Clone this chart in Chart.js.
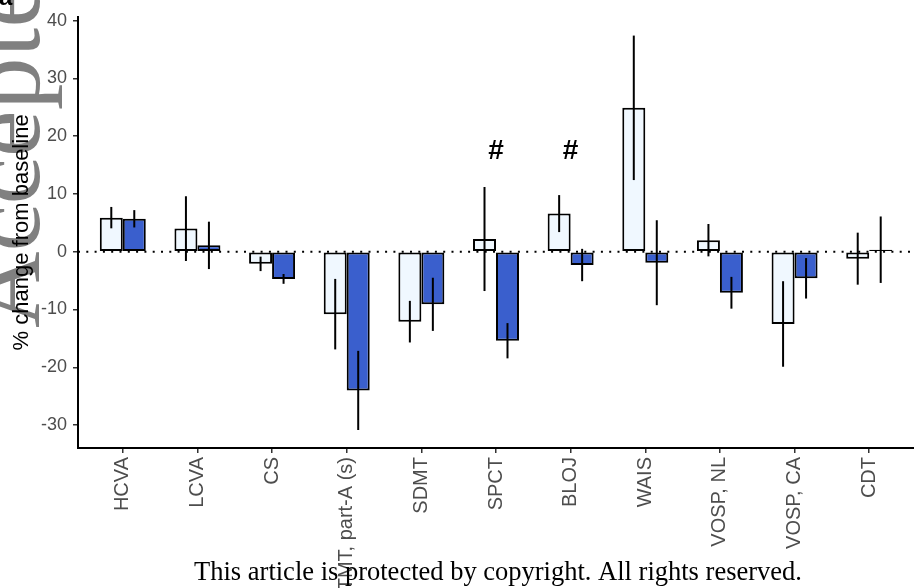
<!DOCTYPE html>
<html>
<head>
<meta charset="utf-8">
<title>% change from baseline</title>
<script src="https://cdn.jsdelivr.net/npm/chart.js@4.4.1/dist/chart.umd.min.js"></script>
<style>
	html, body { margin: 0; padding: 0; background: #ffffff; }
	canvas { display: block; }
</style>
</head>
<body>
<canvas id="chart-change" width="914" height="588"></canvas>
<script>
	var categories = ["HCVA", "LCVA", "CS", "TMT, part-A (s)", "SDMT", "SPCT", "BLOJ", "WAIS", "VOSP, NL", "VOSP, CA", "CDT"];

	// group 1 (light bars), mean and error
	var lightValues = [5.9, 4.0, -2.1, -10.8, -12.1, 2.2, 6.6, 24.9, 2.0, -12.5, -1.2];
	var lightErrors = [1.85, 5.6, 1.25, 6.1, 3.6, 9.0, 3.2, 12.5, 2.8, 7.4, 4.5];

	// group 2 (dark bars), mean and error
	var darkValues = [5.7, 1.1, -4.7, -24.0, -9.1, -15.4, -2.3, -1.9, -7.1, -4.6, 0.35];
	var darkErrors = [1.5, 4.1, 0.85, 6.85, 4.6, 3.05, 2.8, 7.35, 2.75, 3.5, 5.75];

	var markers = ["", "", "", "", "", "#", "#", "", "", "", ""];
	var markerLevel = 16.1;

	var yTicks = [-30, -20, -10, 0, 10, 20, 30, 40];

	var sansFont = "'Liberation Sans', Arial, sans-serif";
	var serifFont = "'Liberation Serif', 'Times New Roman', serif";

	function ToPoints(values)
	{
		return values.map(function(v, i)
		{
			return { x: i, y: v };
		});
	}

	var decorations =
	{
		id: "decorations",
		beforeDraw: function(chart)
		{
			var ctx = chart.ctx;
			ctx.save();
			ctx.fillStyle = "#ffffff";
			ctx.fillRect(0, 0, chart.width, chart.height);

			// watermark
			ctx.translate(39, 328);
			ctx.rotate(-Math.PI / 2);
			ctx.font = "106px " + serifFont;
			ctx.fillStyle = "#808080";
			ctx.textAlign = "left";
			ctx.textBaseline = "alphabetic";
			ctx.fillText("Accepted", 0, 0);
			ctx.restore();
		},
		beforeDatasetsDraw: function(chart)
		{
			var ctx = chart.ctx;
			var area = chart.chartArea;
			var y0 = chart.scales.y.getPixelForValue(0);
			ctx.save();
			ctx.strokeStyle = "#000000";
			ctx.lineWidth = 2;
			ctx.setLineDash([2, 6.3]);
			ctx.beginPath();
			ctx.moveTo(area.left, y0);
			ctx.lineTo(area.right, y0);
			ctx.stroke();
			ctx.restore();
		},
		afterDatasetsDraw: function(chart)
		{
			var ctx = chart.ctx;
			var yScale = chart.scales.y;
			var xScale = chart.scales.x;
			var errors = [lightErrors, darkErrors];
			var values = [lightValues, darkValues];

			ctx.save();
			ctx.strokeStyle = "#000000";
			ctx.lineWidth = 2;
			for (var d = 0; d < 2; d++)
			{
				var meta = chart.getDatasetMeta(d);
				meta.data.forEach(function(bar, i)
				{
					var top = yScale.getPixelForValue(values[d][i] + errors[d][i]);
					var bottom = yScale.getPixelForValue(values[d][i] - errors[d][i]);
					ctx.beginPath();
					ctx.moveTo(bar.x, top);
					ctx.lineTo(bar.x, bottom);
					ctx.stroke();
				});
			}

			ctx.fillStyle = "#000000";
			ctx.font = "bold 28px " + sansFont;
			ctx.textAlign = "center";
			ctx.textBaseline = "alphabetic";
			markers.forEach(function(m, i)
			{
				if (m)
				{
					ctx.fillText(m, xScale.getPixelForValue(i), yScale.getPixelForValue(markerLevel));
				}
			});
			ctx.restore();
		},
		afterDraw: function(chart)
		{
			var ctx = chart.ctx;
			var area = chart.chartArea;

			// y axis title
			ctx.save();
			ctx.translate(28, (area.top + area.bottom) / 2);
			ctx.rotate(-Math.PI / 2);
			ctx.font = "22px " + sansFont;
			ctx.fillStyle = "#000000";
			ctx.textAlign = "center";
			ctx.textBaseline = "alphabetic";
			ctx.fillText("% change from baseline", 0, 0);
			ctx.restore();

			// bit of a panel letter cut off at the top
			ctx.save();
			ctx.font = "bold 24px " + sansFont;
			ctx.fillStyle = "#000000";
			ctx.textAlign = "left";
			ctx.textBaseline = "alphabetic";
			ctx.fillText("a", -1, 5);
			ctx.restore();

			// copyright line
			ctx.save();
			ctx.font = "26.5px " + serifFont;
			ctx.fillStyle = "#000000";
			ctx.textAlign = "center";
			ctx.textBaseline = "alphabetic";
			ctx.fillText("This article is protected by copyright. All rights reserved.", 498, 580);
			ctx.restore();
		}
	};

	new Chart("chart-change", {
		type: "bar",
		data: {
			datasets: [
				{
					label: "group 1",
					data: ToPoints(lightValues),
					backgroundColor: "#F0F8FF",
					borderColor: "#000000",
					borderWidth: 2,
					borderSkipped: false
				},
				{
					label: "group 2",
					data: ToPoints(darkValues),
					backgroundColor: "#3A5FCD",
					borderColor: "#000000",
					borderWidth: 2,
					borderSkipped: false
				}
			]
		},
		options: {
			responsive: false,
			animation: false,
			devicePixelRatio: 1,
			layout: { padding: { top: 13, right: 0, bottom: 0, left: 0 } },
			datasets: {
				bar: { categoryPercentage: 0.616, barPercentage: 1 }
			},
			plugins: {
				legend: { display: false },
				tooltip: { enabled: false }
			},
			scales: {
				x: {
					type: "linear",
					min: -0.6,
					max: 10.6,
					offset: false,
					afterBuildTicks: function(scale)
					{
						scale.ticks = categories.map(function(c, i) { return { value: i }; });
					},
					afterFit: function(scale)
					{
						scale.height = 140;
					},
					ticks: {
						autoSkip: false,
						minRotation: 90,
						maxRotation: 90,
						padding: 4,
						color: "#4D4D4D",
						font: { family: sansFont, size: 20 },
						callback: function(value, index)
						{
							return categories[index];
						}
					},
					grid: { offset: false, drawOnChartArea: false, tickLength: 5, color: "#333333", lineWidth: 1.5 },
					border: { color: "#000000", width: 2 }
				},
				y: {
					min: -33.96,
					max: 40.65,
					afterBuildTicks: function(scale)
					{
						scale.ticks = yTicks.map(function(v) { return { value: v }; });
					},
					afterFit: function(scale)
					{
						scale.width = 78;
					},
					ticks: {
						padding: 6,
						color: "#4D4D4D",
						font: { family: sansFont, size: 18 }
					},
					grid: { drawOnChartArea: false, tickLength: 5, color: "#333333", lineWidth: 1.5 },
					border: { color: "#000000", width: 2 }
				}
			}
		},
		plugins: [decorations]
	});
</script>
</body>
</html>
